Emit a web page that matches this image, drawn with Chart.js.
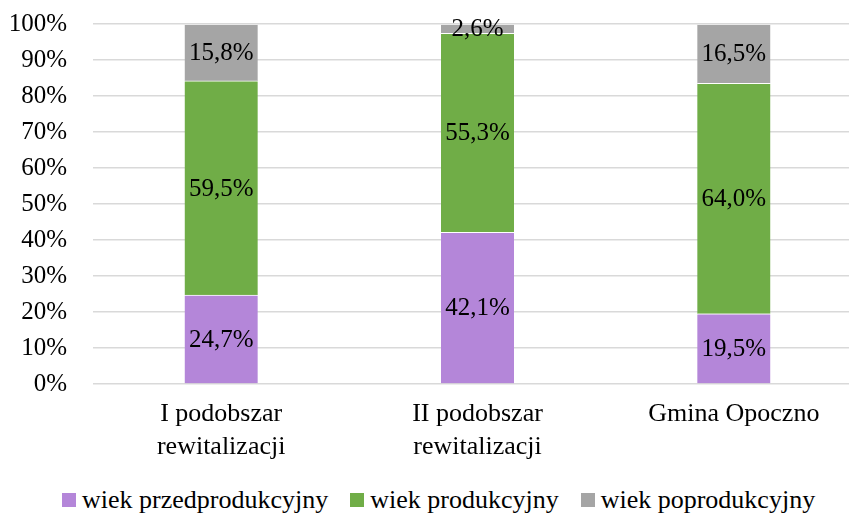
<!DOCTYPE html>
<html>
<head>
<meta charset="utf-8">
<script src="https://cdn.jsdelivr.net/npm/chart.js@4"></script>
<style>
  html, body { margin: 0; padding: 0; background: #fff; overflow: hidden; }
  #wrap { position: relative; width: 849px; height: 513px; overflow: hidden; }
  #box { position: absolute; left: 0; top: -17px; width: 862px; height: 486px; }
  #legenda { position: absolute; left: 62px; top: 487px; height: 26px; display: flex; align-items: center;
    font-family: "Liberation Serif", serif; font-size: 26px; line-height: 26px; color: #000; white-space: nowrap; }
  .voce { display: flex; align-items: center; margin-right: 22px; }
  .quadrato { width: 14px; height: 14px; margin-right: 6px; }
</style>
</head>
<body>
<div id="wrap">
  <div id="box"><canvas id="grafico"></canvas></div>
  <div id="legenda"></div>
</div>
<script>
// dati
const categorie = [["I podobszar", "rewitalizacji"], ["II podobszar", "rewitalizacji"], "Gmina Opoczno"];
const nomiSerie = ["wiek przedprodukcyjny", "wiek produkcyjny", "wiek poprodukcyjny"];
const przedprodukcyjny = [24.7, 42.1, 19.5];
const produkcyjny = [59.5, 55.3, 64.0];
const poprodukcyjny = [15.8, 2.6, 16.5];
const colori = ["#b486d9", "#70ad47", "#a5a5a5"];

const FONT = "Liberation Serif";

// plugin per scrivere le percentuali al centro di ogni barra
const etichette = {
  id: "etichette",
  afterDatasetsDraw(chart) {
    const ctx = chart.ctx;
    ctx.save();
    ctx.font = "25px '" + FONT + "'";
    ctx.fillStyle = "#000";
    ctx.textAlign = "center";
    ctx.textBaseline = "middle";
    chart.data.datasets.forEach((ds, i) => {
      chart.getDatasetMeta(i).data.forEach((bar, j) => {
        const testo = ds.data[j].toFixed(1).replace(".", ",") + "%";
        ctx.fillText(testo, bar.x, (bar.y + bar.base) / 2 + 1);
      });
    });
    ctx.restore();
  },
};

const serie = [przedprodukcyjny, produkcyjny, poprodukcyjny];

new Chart(document.getElementById("grafico").getContext("2d"), {
  type: "bar",
  data: {
    labels: categorie,
    datasets: serie.map((valori, i) => ({
      label: nomiSerie[i],
      data: valori,
      backgroundColor: colori[i],
      borderColor: "#ffffff",
      borderWidth: { top: 1, left: 0, right: 0, bottom: 0 },
      borderSkipped: false,
      barThickness: 73,
    })),
  },
  options: {
    responsive: true,
    maintainAspectRatio: false,
    animation: false,
    layout: { padding: { top: 11, right: 0, left: 0, bottom: 0 } },
    plugins: { legend: { display: false }, tooltip: { enabled: false } },
    scales: {
      x: {
        stacked: true,
        grid: { display: false },
        border: { display: false },
        ticks: { color: "#000", font: { family: FONT, size: 26, lineHeight: 1.25 }, padding: 6, maxRotation: 0 },
      },
      y: {
        stacked: true,
        min: 0,
        max: 100,
        afterFit: (scala) => { scala.width = 93; },
        grid: { color: "#d9d9d9", lineWidth: 1.5, drawTicks: false },
        border: { display: false },
        ticks: {
          stepSize: 10,
          color: "#000",
          padding: 26,
          font: { family: FONT, size: 25 },
          callback: (v) => v + "%",
        },
      },
    },
  },
  plugins: [etichette],
});

// legenda in html
const legenda = document.getElementById("legenda");
nomiSerie.forEach((nome, i) => {
  const voce = document.createElement("div");
  voce.className = "voce";
  voce.innerHTML = '<div class="quadrato" style="background:' + colori[i] + '"></div><span>' + nome + "</span>";
  legenda.appendChild(voce);
});
</script>
</body>
</html>
